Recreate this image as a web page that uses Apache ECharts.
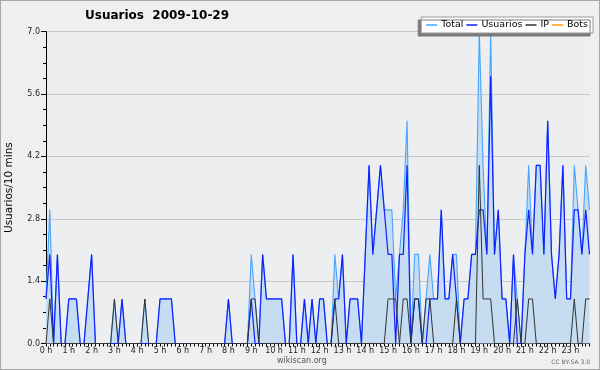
<!DOCTYPE html>
<html>
<head>
<meta charset="utf-8">
<script src="https://cdn.jsdelivr.net/npm/echarts@6/dist/echarts.min.js"></script>
<style>
html,body{margin:0;padding:0;background:#efefef;}
#wrap{position:relative;width:600px;height:370px;}
#chart{width:600px;height:370px;}
#border{position:absolute;left:0;top:0;width:598px;height:368px;border:1px solid #a8a8a8;pointer-events:none;}
</style>
</head>
<body>
<div id="wrap"><div id="chart"></div><div id="border"></div></div>
<script>
// 10-minute slots over the day 2009-10-29 (144 slots)
var hourLabels = ["0 h","1 h","2 h","3 h","4 h","5 h","6 h","7 h","8 h","9 h","10 h","11 h",
                  "12 h","13 h","14 h","15 h","16 h","17 h","18 h","19 h","20 h","21 h","22 h","23 h"];
var yTicks = ["0.0","1.4","2.8","4.2","5.6","7.0"];
var slots = [];
for (var h = 0; h < 24; h++) { for (var m = 0; m < 60; m += 10) { slots.push(h + ":" + (m < 10 ? "0" : "") + m); } }

var total = [
 1,3,0,2,0,0,1,1,1,0,0,1, 2,0,0,0,0,0,1,0,1,0,0,0,
 0,0,1,0,0,0,1,1,1,1,0,0, 0,0,0,0,0,0,0,0,0,0,0,0,
 1,0,0,0,0,0,2,1,0,2,1,1, 1,1,1,0,0,2,0,0,1,0,1,0,
 1,1,0,0,2,1,2,0,1,1,1,0, 2,4,2,3,4,3,3,3,1,2,3,5,
 0,2,2,0,1,2,1,1,3,1,1,2, 2,0,1,1,2,2,7,4,2,7,2,3,
 1,1,0,2,1,0,2,4,2,4,4,2, 5,2,1,2,4,1,1,4,3,2,4,3
];
var usuarios = [
 1,2,0,2,0,0,1,1,1,0,0,1, 2,0,0,0,0,0,0,0,1,0,0,0,
 0,0,0,0,0,0,1,1,1,1,0,0, 0,0,0,0,0,0,0,0,0,0,0,0,
 1,0,0,0,0,0,1,0,0,2,1,1, 1,1,1,0,0,2,0,0,1,0,1,0,
 1,1,0,0,1,1,2,0,1,1,1,0, 2,4,2,3,4,3,2,2,0,2,2,4,
 0,1,1,0,0,1,1,1,3,1,1,2, 1,0,1,1,2,2,3,3,2,6,2,3,
 1,1,0,2,0,0,2,3,2,4,4,2, 5,2,1,2,4,1,1,3,3,2,3,2
];
var ip = [
 0,1,0,0,0,0,0,0,0,0,0,0, 0,0,0,0,0,0,1,0,0,0,0,0,
 0,0,1,0,0,0,0,0,0,0,0,0, 0,0,0,0,0,0,0,0,0,0,0,0,
 0,0,0,0,0,0,1,1,0,0,0,0, 0,0,0,0,0,0,0,0,0,0,0,0,
 0,0,0,0,1,0,0,0,0,0,0,0, 0,0,0,0,0,0,1,1,1,0,1,1,
 0,1,1,0,1,1,0,0,0,0,0,0, 1,0,0,0,0,0,4,1,1,1,0,0,
 0,0,0,0,1,0,0,1,1,0,0,0, 0,0,0,0,0,0,0,1,0,0,1,1
];
var bots = [];

var FONT = "DejaVu Sans";
var chart = echarts.init(document.getElementById('chart'), null, {renderer: 'canvas'});
chart.setOption({
  backgroundColor: '#efefef',
  animation: false,
  title: {
    text: 'Usuarios  2009-10-29',
    left: 85, top: 10, padding: 0,
    textStyle: {fontFamily: FONT, fontSize: 12, fontWeight: 'bold', color: '#000'}
  },
  legend: {
    right: 7, top: 17, padding: [3, 5, 3, 5], itemGap: 3,
    itemWidth: 11, itemHeight: 1.5, icon: 'rect',
    backgroundColor: '#ffffff', borderColor: '#999', borderWidth: 1,
    shadowColor: '#7a7a7a', shadowBlur: 0, shadowOffsetX: -3, shadowOffsetY: 3,
    textStyle: {fontFamily: FONT, fontSize: 9.5, color: '#000', padding: [0, 0, 0, -1]},
    data: ['Total', 'Usuarios', 'IP', 'Bots']
  },
  grid: {
    left: 46, right: 10.5, top: 31.7, bottom: 26.5,
    containLabel: false, outerBoundsMode: 'none',
    show: true, backgroundColor: '#edeef0', borderWidth: 0
  },
  xAxis: {
    type: 'category', data: slots, boundaryGap: false,
    axisLine: {lineStyle: {color: '#000', width: 1}},
    axisTick: {show: true, interval: 0, length: 3, lineStyle: {color: '#000'}},
    axisLabel: {
      interval: function (idx) { return idx % 6 === 0; },
      formatter: function (v, idx) { return hourLabels[Math.round(idx / 6)]; },
      fontFamily: FONT, fontSize: 8, color: '#222', margin: 3
    },
    splitLine: {show: false}
  },
  yAxis: {
    type: 'value', min: 0, max: 7, interval: 1.4,
    name: 'Usuarios/10 mins', nameLocation: 'middle', nameGap: 31, nameRotate: 90,
    nameTextStyle: {fontFamily: FONT, fontSize: 10.5, color: '#000'},
    axisLine: {show: true, lineStyle: {color: '#000', width: 1}},
    axisTick: {show: true, length: 5, lineStyle: {color: '#000'}},
    minorTick: {show: true, splitNumber: 4, length: 3, lineStyle: {color: '#000'}},
    axisLabel: {
      formatter: function (v) { var i = Math.round(v / 1.4); return yTicks[i]; },
      fontFamily: FONT, fontSize: 8, color: '#222', margin: 6
    },
    splitLine: {show: true, lineStyle: {color: '#c8c8c8', width: 1}}
  },
  series: [
    {name: 'Total', type: 'line', data: total, symbol: 'none', z: 2,
     color: '#45a5ff',
     lineStyle: {color: '#45a5ff', width: 1.1},
     areaStyle: {color: '#c6dcf0', opacity: 1}},
    {name: 'Usuarios', type: 'line', data: usuarios, symbol: 'none', z: 3,
     color: '#1020ff',
     lineStyle: {color: '#1020ff', width: 1.2}},
    {name: 'IP', type: 'line', data: ip, symbol: 'none', z: 4,
     color: '#333333',
     lineStyle: {color: '#333333', width: 1}},
    {name: 'Bots', type: 'line', data: bots, symbol: 'none', z: 5,
     color: '#ff9900',
     lineStyle: {color: '#ff9900', width: 1.2}}
  ],
  graphic: [
    {type: 'text', left: 277, top: 357,
     style: {text: 'wikiscan.org', fontFamily: FONT, fontSize: 8, fill: '#555'}},
    {type: 'text', right: 10, top: 359,
     style: {text: 'CC BY-SA 3.0', fontFamily: FONT, fontSize: 6, fill: '#666'}}
  ]
});
</script>
</body>
</html>
